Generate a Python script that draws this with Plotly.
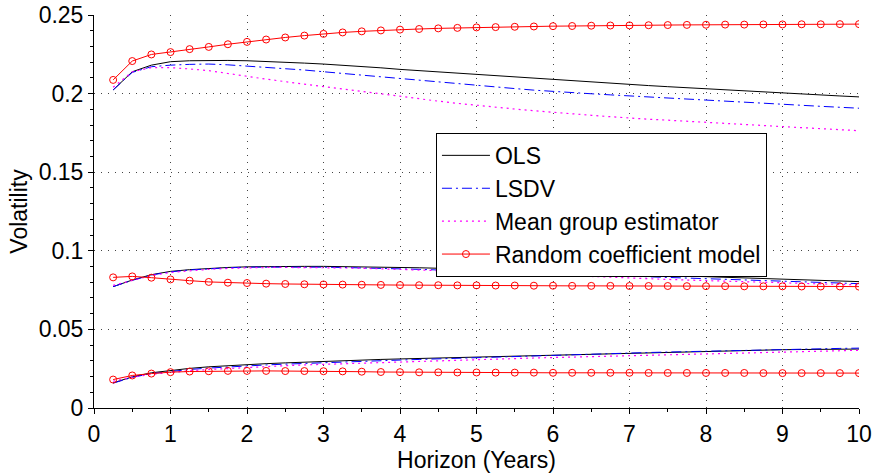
import plotly.graph_objects as go

# Forecast horizons in years
horizons = [0.25, 0.5, 0.75, 1, 1.25, 1.5, 1.75, 2, 2.25, 2.5, 2.75, 3, 3.25, 3.5, 3.75, 4,
            4.25, 4.5, 4.75, 5, 5.25, 5.5, 5.75, 6, 6.25, 6.5, 6.75, 7, 7.25, 7.5, 7.75, 8,
            8.25, 8.5, 8.75, 9, 9.25, 9.5, 9.75, 10]

# Upper band
ols_high = [0.2023, 0.2139, 0.2181, 0.2203, 0.2209, 0.2211, 0.2211, 0.2209, 0.2205, 0.2199,
            0.2194, 0.2188, 0.2181, 0.2173, 0.2164, 0.2154, 0.2146, 0.2138, 0.2129, 0.2120,
            0.2112, 0.2104, 0.2095, 0.2087, 0.2080, 0.2072, 0.2065, 0.2057, 0.2051, 0.2044,
            0.2037, 0.2030, 0.2023, 0.2017, 0.2010, 0.2003, 0.1997, 0.1991, 0.1985, 0.1979]
lsdv_high = [0.2023, 0.2135, 0.2171, 0.2181, 0.2186, 0.2188, 0.2183, 0.2175, 0.2168, 0.2160,
             0.2150, 0.2139, 0.2128, 0.2117, 0.2106, 0.2094, 0.2083, 0.2072, 0.2062, 0.2051,
             0.2041, 0.2032, 0.2022, 0.2013, 0.2006, 0.1999, 0.1992, 0.1985, 0.1979, 0.1972,
             0.1966, 0.1960, 0.1953, 0.1946, 0.1939, 0.1932, 0.1926, 0.1919, 0.1913, 0.1907]
mg_high = [0.2040, 0.2139, 0.2165, 0.2165, 0.2157, 0.2146, 0.2128, 0.2108, 0.2092, 0.2076,
           0.2060, 0.2044, 0.2028, 0.2012, 0.1996, 0.1980, 0.1966, 0.1952, 0.1938, 0.1925,
           0.1913, 0.1902, 0.1891, 0.1880, 0.1871, 0.1862, 0.1853, 0.1844, 0.1837, 0.1831,
           0.1825, 0.1818, 0.1811, 0.1804, 0.1797, 0.1790, 0.1784, 0.1777, 0.1770, 0.1764]
rcm_high = [0.2087, 0.2207, 0.2249, 0.2264, 0.2283, 0.2297, 0.2314, 0.2329, 0.2344, 0.2357,
            0.2369, 0.2380, 0.2389, 0.2396, 0.2402, 0.2407, 0.2411, 0.2415, 0.2418, 0.2421,
            0.2423, 0.2425, 0.2427, 0.2429, 0.2430, 0.2432, 0.2433, 0.2434, 0.2435, 0.2436,
            0.2437, 0.2438, 0.2439, 0.2439, 0.2440, 0.2440, 0.2441, 0.2441, 0.2442, 0.2442]

# Middle band
ols_mid = [0.0772, 0.0814, 0.0848, 0.0869, 0.0880, 0.0888, 0.0894, 0.0898, 0.0900, 0.0901,
           0.0901, 0.0901, 0.0900, 0.0898, 0.0896, 0.0894, 0.0892, 0.0889, 0.0886, 0.0883,
           0.0879, 0.0875, 0.0871, 0.0867, 0.0863, 0.0859, 0.0856, 0.0852, 0.0848, 0.0843,
           0.0839, 0.0835, 0.0831, 0.0826, 0.0822, 0.0818, 0.0815, 0.0811, 0.0807, 0.0804]
lsdv_mid = [0.0772, 0.0812, 0.0846, 0.0866, 0.0878, 0.0886, 0.0892, 0.0896, 0.0897, 0.0898,
            0.0897, 0.0896, 0.0894, 0.0892, 0.0889, 0.0886, 0.0882, 0.0878, 0.0874, 0.0870,
            0.0866, 0.0862, 0.0857, 0.0853, 0.0849, 0.0846, 0.0843, 0.0840, 0.0836, 0.0832,
            0.0828, 0.0823, 0.0819, 0.0814, 0.0810, 0.0806, 0.0802, 0.0798, 0.0794, 0.0791]
mg_mid = [0.0780, 0.0812, 0.0842, 0.0862, 0.0874, 0.0882, 0.0888, 0.0892, 0.0894, 0.0894,
          0.0894, 0.0893, 0.0891, 0.0889, 0.0886, 0.0882, 0.0878, 0.0874, 0.0870, 0.0865,
          0.0860, 0.0855, 0.0849, 0.0844, 0.0839, 0.0835, 0.0830, 0.0826, 0.0822, 0.0818,
          0.0814, 0.0810, 0.0806, 0.0802, 0.0798, 0.0795, 0.0792, 0.0789, 0.0786, 0.0783]
rcm_mid = [0.0831, 0.0837, 0.0829, 0.0818, 0.0810, 0.0802, 0.0797, 0.0795, 0.0791, 0.0789,
           0.0787, 0.0786, 0.0785, 0.0784, 0.0783, 0.0782, 0.0781, 0.0781, 0.0780, 0.0780,
           0.0779, 0.0779, 0.0778, 0.0778, 0.0777, 0.0777, 0.0777, 0.0776, 0.0776, 0.0776,
           0.0775, 0.0775, 0.0775, 0.0774, 0.0774, 0.0774, 0.0773, 0.0773, 0.0773, 0.0772]

# Lower band
ols_low = [0.0160, 0.0198, 0.0224, 0.0240, 0.0252, 0.0262, 0.0270, 0.0276, 0.0282, 0.0287,
           0.0292, 0.0297, 0.0301, 0.0305, 0.0309, 0.0312, 0.0315, 0.0318, 0.0322, 0.0325,
           0.0329, 0.0332, 0.0336, 0.0339, 0.0341, 0.0343, 0.0346, 0.0348, 0.0351, 0.0354,
           0.0357, 0.0360, 0.0363, 0.0366, 0.0368, 0.0371, 0.0372, 0.0373, 0.0374, 0.0375]
lsdv_low = [0.0158, 0.0195, 0.0219, 0.0234, 0.0245, 0.0254, 0.0262, 0.0268, 0.0274, 0.0279,
            0.0284, 0.0289, 0.0293, 0.0297, 0.0301, 0.0305, 0.0309, 0.0313, 0.0316, 0.0320,
            0.0324, 0.0328, 0.0332, 0.0336, 0.0340, 0.0344, 0.0347, 0.0350, 0.0353, 0.0356,
            0.0359, 0.0362, 0.0365, 0.0368, 0.0370, 0.0373, 0.0375, 0.0377, 0.0379, 0.0381]
mg_low = [0.0170, 0.0196, 0.0214, 0.0227, 0.0237, 0.0245, 0.0252, 0.0258, 0.0264, 0.0269,
          0.0274, 0.0278, 0.0282, 0.0286, 0.0290, 0.0294, 0.0298, 0.0302, 0.0306, 0.0309,
          0.0312, 0.0315, 0.0318, 0.0321, 0.0324, 0.0327, 0.0330, 0.0333, 0.0336, 0.0339,
          0.0342, 0.0345, 0.0348, 0.0351, 0.0354, 0.0357, 0.0360, 0.0362, 0.0365, 0.0367]
rcm_low = [0.0181, 0.0207, 0.0219, 0.0228, 0.0232, 0.0234, 0.0236, 0.0236, 0.0236, 0.0235,
           0.0235, 0.0234, 0.0233, 0.0231, 0.0229, 0.0228, 0.0227, 0.0227, 0.0226, 0.0226,
           0.0225, 0.0225, 0.0225, 0.0224, 0.0224, 0.0224, 0.0224, 0.0224, 0.0223, 0.0223,
           0.0223, 0.0223, 0.0223, 0.0223, 0.0222, 0.0222, 0.0222, 0.0222, 0.0222, 0.0222]

x_ticks = [0, 1, 2, 3, 4, 5, 6, 7, 8, 9, 10]
y_ticks = [0, 0.05, 0.1, 0.15, 0.2, 0.25]
y_tick_labels = ["0", "0.05", "0.1", "0.15", "0.2", "0.25"]

FONT = "Arial, Liberation Sans, sans-serif"
FSIZE = 23

styles = {
    "OLS": dict(mode="lines", line=dict(color="#000000", width=1)),
    "LSDV": dict(mode="lines", line=dict(color="#0000ff", width=1, dash="10px,4px,2px,4px")),
    "Mean group estimator": dict(mode="lines", line=dict(color="#ff00ff", width=1.2, dash="2px,4px")),
    "Random coefficient model": dict(mode="lines+markers", line=dict(color="#ff0000", width=1),
                                     marker=dict(symbol="circle-open", size=7,
                                                 color="#ff0000", line=dict(width=1))),
}

bands = [
    {"OLS": ols_high, "LSDV": lsdv_high, "Mean group estimator": mg_high, "Random coefficient model": rcm_high},
    {"OLS": ols_mid, "LSDV": lsdv_mid, "Mean group estimator": mg_mid, "Random coefficient model": rcm_mid},
    {"OLS": ols_low, "LSDV": lsdv_low, "Mean group estimator": mg_low, "Random coefficient model": rcm_low},
]

fig = go.Figure()
for name in ["OLS", "LSDV", "Mean group estimator", "Random coefficient model"]:
    for i, band in enumerate(bands):
        fig.add_trace(go.Scatter(x=horizons, y=band[name], name=name, legendgroup=name,
                                 showlegend=(i == 0), **styles[name]))

axis_common = dict(
    automargin=False,
    showline=True, linecolor="#000000", linewidth=1, mirror=False,
    ticks="outside", ticklen=5, tickcolor="#000000", tickwidth=1,
    showgrid=True, gridcolor="#444444", gridwidth=1, griddash="1px,6px",
    zeroline=False, tickfont=dict(family=FONT, size=FSIZE, color="#000000"),
)

fig.update_xaxes(range=[0, 10], tickvals=x_ticks,
                 minor=dict(dtick=0.5, ticks="outside", ticklen=3, tickcolor="#000000", showgrid=False),
                 title=dict(text="Horizon (Years)", font=dict(family=FONT, size=FSIZE, color="#000000"), standoff=0),
                 **axis_common)
fig.update_yaxes(range=[0, 0.25], tickvals=y_ticks, ticktext=y_tick_labels,
                 minor=dict(dtick=0.01, ticks="outside", ticklen=3, tickcolor="#000000", showgrid=False),
                 title=dict(text="Volatility", font=dict(family=FONT, size=FSIZE, color="#000000"), standoff=4),
                 **axis_common)

fig.update_layout(
    width=874, height=475,
    margin=dict(l=94, r=15, t=15, b=67),
    paper_bgcolor="#ffffff", plot_bgcolor="#ffffff",
    font=dict(family=FONT, size=FSIZE, color="#000000"),
    legend=dict(x=0.447, y=0.70, xanchor="left", yanchor="top",
                bgcolor="#ffffff", bordercolor="#000000", borderwidth=1,
                font=dict(family=FONT, size=FSIZE, color="#000000"),
                tracegroupgap=0, itemwidth=48),
    showlegend=True,
)

fig.write_html("out.html")
